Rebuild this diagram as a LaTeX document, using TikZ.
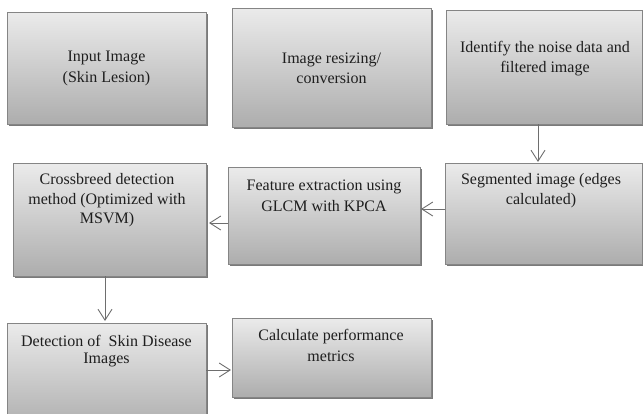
\documentclass[tikz,border=0pt]{standalone}
\usepackage{fontspec}
\setmainfont{Liberation Serif}
\usetikzlibrary{arrows.meta,shadows}
\definecolor{boxtop}{HTML}{EBEBEB}
\definecolor{boxbot}{HTML}{ADADAD}
\definecolor{edgec}{HTML}{858585}
\definecolor{shadec}{HTML}{7A7A7A}
\definecolor{arrowc}{HTML}{6E6E6E}
\definecolor{txt}{HTML}{1E1E1E}
\begin{document}
\begin{tikzpicture}[x=1pt,y=-1pt,
  box/.style={draw=edgec, line width=0.9pt, top color=boxtop, bottom color=boxbot,
    inner sep=0pt, outer sep=0pt,
    drop shadow={shadow xshift=1.5pt, shadow yshift=-2pt, fill=shadec, opacity=1}},
  lbl/.style={align=center, inner sep=0pt, text=txt},
  conn/.style={draw=arrowc, line width=0.9pt, -{Straight Barb[length=11pt,width=14pt]}, shorten >=1pt}]
\useasboundingbox (0,0) rectangle (643,413);

% boxes
\node[box, minimum width=199pt, minimum height=112pt] (b1) at (106.5,68) {};
\node[box, minimum width=199pt, minimum height=119pt] (b2) at (331.5,67.5) {};
\node[box, minimum width=196pt, minimum height=114pt] (b3) at (544,67) {};
\node[box, minimum width=193pt, minimum height=113pt] (b4) at (109.5,219.5) {};
\node[box, minimum width=192pt, minimum height=97pt] (b5) at (324,215.5) {};
\node[box, minimum width=197pt, minimum height=101pt] (b6) at (543.5,213.5) {};
\node[box, minimum width=199pt, minimum height=107pt] (b7) at (106.5,376.5) {};
\node[box, minimum width=199pt, minimum height=79pt] (b8) at (331.5,357.5) {};

% texts
\node[lbl, font=\fontsize{16pt}{21pt}\selectfont] (t1) at (106.5,68.5) {Input Image\\(Skin Lesion)};
\node[lbl, font=\fontsize{16pt}{19.5pt}\selectfont] (t2) at (331.5,68.5) {Image resizing/\\conversion};
\node[lbl, font=\fontsize{16pt}{20pt}\selectfont] (t3) at (545,59) {Identify the noise data and\\filtered image};
\node[lbl, font=\fontsize{16pt}{19.5pt}\selectfont] (t4) at (107,200.5) {Crossbreed detection\\method (Optimized with\\MSVM)};
\node[lbl, font=\fontsize{16pt}{21pt}\selectfont] (t5) at (324,195.5) {Feature extraction using\\GLCM with KPCA};
\node[lbl, font=\fontsize{16pt}{19.5pt}\selectfont] (t6) at (541,190.5) {Segmented image (edges\\calculated)};
\node[lbl, font=\fontsize{16pt}{17pt}\selectfont] (t7) at (106.5,351.5) {Detection of\ \ Skin Disease\\Images};
\node[lbl, font=\fontsize{16pt}{21pt}\selectfont] (t8) at (331,345.5) {Calculate performance\\metrics};

% connectors
\draw[conn] ([xshift=-6pt]b3.south) -- ([xshift=-6pt]b3.south |- b6.north);
\draw[conn] ([yshift=4.5pt]b6.west) -- ([yshift=4.5pt]b6.west -| b5.east);
\draw[conn, shorten >=3pt] ([yshift=-7.5pt]b5.west) -- ([yshift=-7.5pt]b5.west -| b4.east);
\draw[conn, shorten >=2pt] ([xshift=-4.5pt]b4.south) -- ([xshift=-4.5pt]b4.south |- b7.north);
\draw[conn] ([yshift=6.5pt]b7.east) -- ([yshift=6.5pt]b7.east -| b8.west);
\end{tikzpicture}
\end{document}
